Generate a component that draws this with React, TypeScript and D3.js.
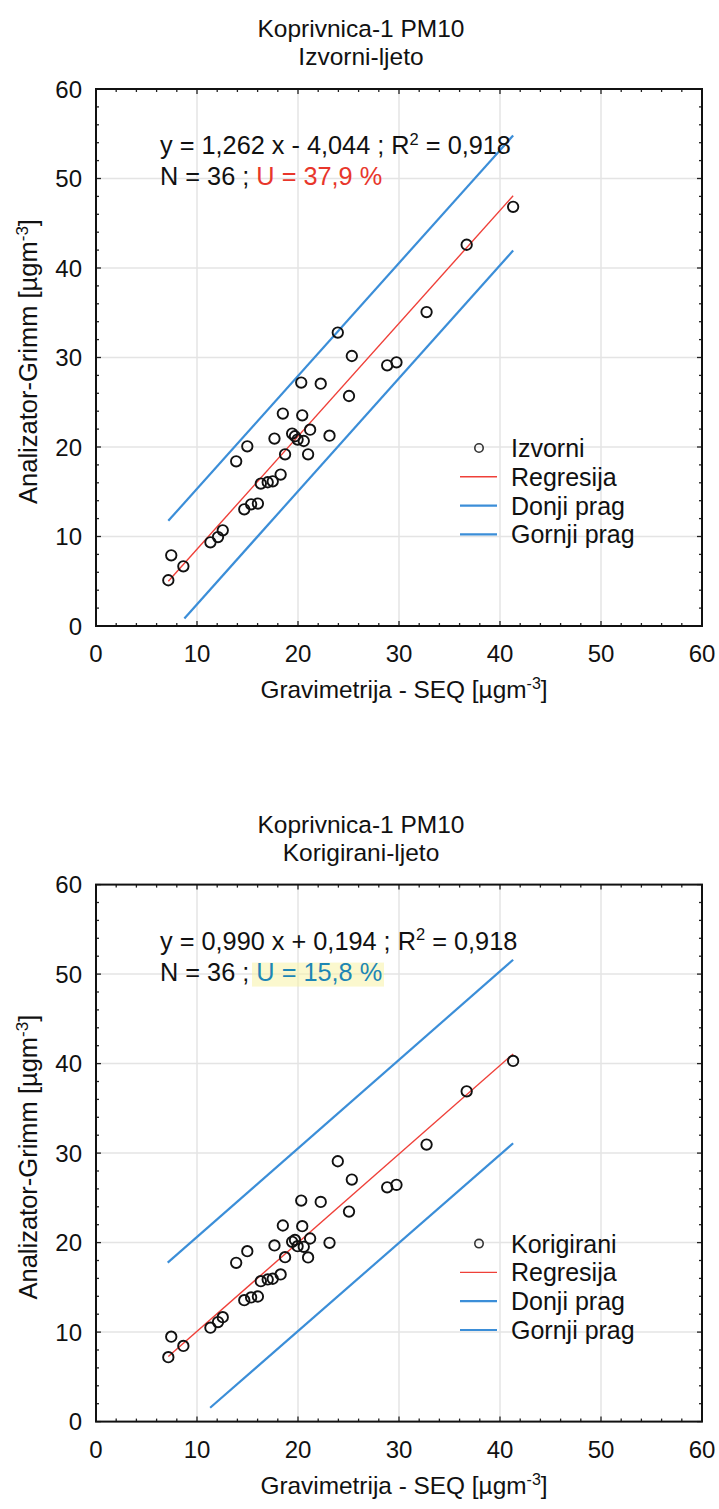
import React from "react";
import * as d3 from "d3";

// ---- data ----
const gravimetrija = [7.16, 7.45, 8.65, 11.33, 12.08, 12.55, 14.68, 15.36, 16.03, 13.88, 14.98, 16.32, 17.0, 17.5, 18.28, 17.67, 18.5, 18.72, 19.42, 19.96, 20.57, 20.32, 20.42, 21.2, 21.0, 22.25, 23.12, 23.94, 25.33, 25.05, 28.83, 29.75, 32.73, 36.7, 41.3, 19.7];
const izvorni = [5.11, 7.9, 6.67, 9.35, 9.94, 10.69, 13.04, 13.6, 13.68, 18.4, 20.08, 15.91, 16.06, 16.17, 16.92, 20.94, 23.73, 19.18, 21.5, 20.83, 20.67, 27.2, 23.54, 21.94, 19.18, 27.08, 21.27, 32.78, 30.17, 25.7, 29.13, 29.46, 35.08, 42.6, 46.84, 21.2];
const korigirani = [7.2, 9.49, 8.45, 10.49, 11.12, 11.67, 13.57, 13.87, 13.98, 17.74, 19.04, 15.69, 15.88, 15.96, 16.44, 19.68, 21.91, 18.37, 20.09, 19.6, 19.53, 24.7, 21.83, 20.46, 18.34, 24.55, 19.98, 29.09, 27.04, 23.47, 26.18, 26.45, 30.95, 36.9, 40.3, 20.3];

const axisTicks = [0, 10, 20, 30, 40, 50, 60];
const minorTicks = d3.range(0, 61, 2);

const regIzvorni = { slope: 1.262, intercept: -4.044, x0: 7.16, x1: 41.3 };
const regKorigirani = { slope: 0.99, intercept: 0.194, x0: 7.16, x1: 41.3 };

// threshold line end points [x, y]
const upperIzvorni = [[7.16, 11.75], [41.3, 54.8]];
const lowerIzvorni = [[8.75, 0.85], [41.3, 41.95]];
const upperKorigirani = [[7.1, 17.76], [41.3, 51.6]];
const lowerKorigirani = [[11.3, 1.55], [41.3, 31.1]];

const legendLabels = ["Regresija", "Donji prag", "Gornji prag"];

const FONT = "'Liberation Sans', Arial, Helvetica, sans-serif";
const RED = "#ef4039";
const BLUE = "#3b8ed8";

const L = 96, R = 702, H = 537;

function Chart({ top, subtitle, yVals, seriesName, reg, upper, lower, eqText, uText, uColor, highlight }) {
  const x = d3.scaleLinear().domain([0, 60]).range([L, R]);
  const y = d3.scaleLinear().domain([0, 60]).range([top + H, top]);
  const bottom = top + H;
  const line = d3.line().x((d) => x(d[0])).y((d) => y(d[1]));
  const regPts = [
    [reg.x0, reg.slope * reg.x0 + reg.intercept],
    [reg.x1, reg.slope * reg.x1 + reg.intercept],
  ];
  const legX = 479, legTop = top + 359, legStep = 28.8;
  return (
    <g fontFamily={FONT} fill="#111">
      <text x={361} y={top - 52} fontSize={24.5} textAnchor="middle">Koprivnica-1 PM10</text>
      <text x={361} y={top - 24} fontSize={24.5} textAnchor="middle">{subtitle}</text>
      {/* grid */}
      {axisTicks.slice(1, -1).map((t) => (
        <g key={"g" + t}>
          <line x1={x(t)} x2={x(t)} y1={top} y2={bottom} stroke="#e4e4e4" strokeWidth={1.5} />
          <line x1={L} x2={R} y1={y(t)} y2={y(t)} stroke="#e4e4e4" strokeWidth={1.5} />
        </g>
      ))}
      {/* minor / major inward ticks */}
      {minorTicks.map((t) => {
        const len = t % 10 === 0 ? 5 : 3;
        return (
          <g key={"t" + t} stroke="#222" strokeWidth={1.3}>
            <line x1={x(t)} x2={x(t)} y1={bottom} y2={bottom - len} />
            <line x1={x(t)} x2={x(t)} y1={top} y2={top + len} />
            <line x1={L} x2={L + len} y1={y(t)} y2={y(t)} />
            <line x1={R} x2={R - len} y1={y(t)} y2={y(t)} />
          </g>
        );
      })}
      {/* threshold and regression lines */}
      <path d={line(upper)} stroke={BLUE} strokeWidth={2.2} fill="none" />
      <path d={line(lower)} stroke={BLUE} strokeWidth={2.2} fill="none" />
      <path d={line(regPts)} stroke={RED} strokeWidth={1.4} fill="none" />
      {/* points */}
      {gravimetrija.map((g, i) => (
        <circle key={i} cx={x(g)} cy={y(yVals[i])} r={5.2} fill="none" stroke="#111" strokeWidth={1.9} />
      ))}
      {/* frame */}
      <rect x={L} y={top} width={R - L} height={H} fill="none" stroke="#111" strokeWidth={2} />
      {/* tick labels */}
      {axisTicks.map((t) => (
        <text key={"xl" + t} x={x(t)} y={bottom + 36} fontSize={24} textAnchor="middle">{t}</text>
      ))}
      {axisTicks.map((t) => (
        <text key={"yl" + t} x={82} y={y(t) + 8.5} fontSize={24} textAnchor="end">{t}</text>
      ))}
      {/* axis titles */}
      <text x={404} y={bottom + 72} fontSize={24.4} textAnchor="middle">
        Gravimetrija - SEQ [µgm<tspan dy={-9} fontSize={16}>-3</tspan><tspan dy={9}>]</tspan>
      </text>
      <text transform={`translate(37,${(top + bottom) / 2 + 4}) rotate(-90)`} fontSize={25.5} textAnchor="middle">
        Analizator-Grimm [µgm<tspan dy={-9.5} fontSize={17}>-3</tspan><tspan dy={9.5}>]</tspan>
      </text>
      {/* equation */}
      <text x={160} y={top + 65} fontSize={25.3}>
        {eqText}<tspan dy={-9.5} fontSize={16.5}>2</tspan><tspan dy={9.5}>{" = 0,918"}</tspan>
      </text>
      {highlight && <rect x={252} y={top + 78} width={132} height={24} fill="#f7f3a6" opacity={0.55} />}
      <text x={160} y={top + 96} fontSize={25.3}>
        {"N = 36 ; "}<tspan fill={uColor}>{uText}</tspan>
      </text>
      {/* legend */}
      <circle cx={legX} cy={legTop} r={4.2} fill="none" stroke="#333" strokeWidth={1.6} />
      <text x={511} y={legTop + 9} fontSize={25}>{seriesName}</text>
      {legendLabels.map((lab, i) => {
        const cy = legTop + legStep * (i + 1);
        return (
          <g key={lab}>
            <line x1={460} x2={497} y1={cy} y2={cy} stroke={i === 0 ? RED : BLUE} strokeWidth={i === 0 ? 1.4 : 2.2} />
            <text x={511} y={cy + 9} fontSize={25}>{lab}</text>
          </g>
        );
      })}
    </g>
  );
}

export default function App() {
  return (
    <svg width={719} height={1509} style={{ position: "absolute", left: 0, top: 0, background: "#fff" }}>
      <rect width={719} height={1509} fill="#fff" />
      <Chart
        top={89}
        subtitle="Izvorni-ljeto"
        yVals={izvorni}
        seriesName="Izvorni"
        reg={regIzvorni}
        upper={upperIzvorni}
        lower={lowerIzvorni}
        eqText="y = 1,262 x - 4,044 ; R"
        uText="U = 37,9 %"
        uColor="#e8362b"
        highlight={false}
      />
      <Chart
        top={884.6}
        subtitle="Korigirani-ljeto"
        yVals={korigirani}
        seriesName="Korigirani"
        reg={regKorigirani}
        upper={upperKorigirani}
        lower={lowerKorigirani}
        eqText="y = 0,990 x + 0,194 ; R"
        uText="U = 15,8 %"
        uColor="#1d86b5"
        highlight={true}
      />
    </svg>
  );
}
